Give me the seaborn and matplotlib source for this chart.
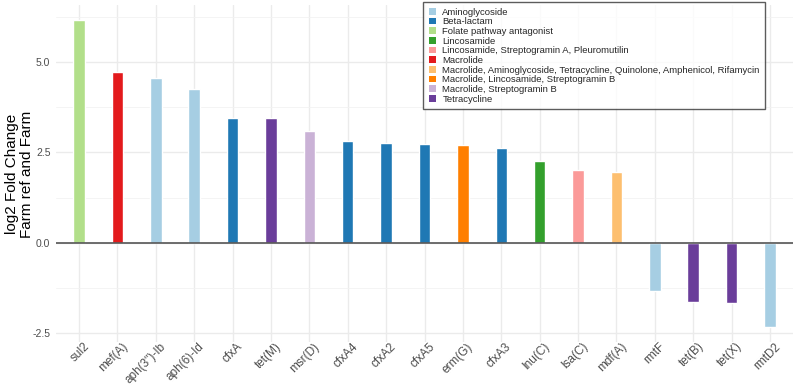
import matplotlib
matplotlib.use("Agg")
import matplotlib.pyplot as plt
from matplotlib.patches import Rectangle
from matplotlib.ticker import FixedLocator
import matplotlib.transforms as mtransforms
import seaborn as sns
import pandas as pd

genes = ["sul2", "mef(A)", "aph(3'')-Ib", "aph(6)-Id", "cfxA", "tet(M)", "msr(D)",
         "cfxA4", "cfxA2", "cfxA5", "erm(G)", "cfxA3", "lnu(C)", "lsa(C)", "mdf(A)",
         "rmtF", "tet(B)", "tet(X)", "rmtD2"]
log2fc = [6.15, 4.72, 4.56, 4.24, 3.46, 3.44, 3.08, 2.80, 2.75, 2.72, 2.71, 2.61,
          2.26, 2.00, 1.97, -1.33, -1.64, -1.67, -2.32]
drug_class = ["Folate pathway antagonist", "Macrolide", "Aminoglycoside", "Aminoglycoside",
              "Beta-lactam", "Tetracycline", "Macrolide, Streptogramin B",
              "Beta-lactam", "Beta-lactam", "Beta-lactam",
              "Macrolide, Lincosamide, Streptogramin B", "Beta-lactam", "Lincosamide",
              "Lincosamide, Streptogramin A, Pleuromutilin",
              "Macrolide, Aminoglycoside, Tetracycline, Quinolone, Amphenicol, Rifamycin",
              "Aminoglycoside", "Tetracycline", "Tetracycline", "Aminoglycoside"]
classes = ["Aminoglycoside", "Beta-lactam", "Folate pathway antagonist", "Lincosamide",
           "Lincosamide, Streptogramin A, Pleuromutilin", "Macrolide",
           "Macrolide, Aminoglycoside, Tetracycline, Quinolone, Amphenicol, Rifamycin",
           "Macrolide, Lincosamide, Streptogramin B", "Macrolide, Streptogramin B",
           "Tetracycline"]
class_colors = ["#A6CEE3", "#1F78B4", "#B2DF8A", "#33A02C", "#FB9A99", "#E31A1C",
                "#FDBF6F", "#FF7F00", "#CAB2D6", "#6A3D9A"]
yticks = [-2.5, 0.0, 2.5, 5.0]
ytick_labels = ["-2.5", "0.0", "2.5", "5.0"]

df = pd.DataFrame({"gene": genes, "lfc": log2fc, "cls": drug_class})
palette = dict(zip(classes, class_colors))

sns.set_theme(style="white")
plt.rcParams["font.family"] = ["Liberation Sans", "DejaVu Sans"]

fig = plt.figure(figsize=(7.94, 3.90), dpi=100)
ax = fig.add_axes([56/794, 1 - 342/390, (793 - 56)/794, (342 - 5)/390])

sns.barplot(data=df, x="gene", y="lfc", hue="cls", hue_order=classes, order=genes,
            palette=palette, dodge=False, width=0.3, saturation=1, ax=ax, legend=False,
            zorder=3)

ax.axhline(0, color="#555555", lw=1.2, zorder=4)
ax.set_xlim(-0.6, len(genes) - 0.4)
ax.set_ylim(-2.74, 6.57)
ax.yaxis.set_major_locator(FixedLocator(yticks))
ax.yaxis.set_minor_locator(FixedLocator([-1.25, 1.25, 3.75, 6.25]))
ax.set_yticklabels(ytick_labels)
ax.grid(True, which="major", color="#EBEBEB", lw=1.0, zorder=0)
ax.grid(True, which="minor", axis="y", color="#F2F2F2", lw=0.6, zorder=0)
for s in ax.spines.values():
    s.set_visible(False)
ax.tick_params(axis="both", length=0, colors="#4D4D4D", labelsize=8.5, pad=2)
ax.tick_params(axis="y", labelsize=7.5, pad=4)
offset = mtransforms.ScaledTranslation(6/72, 0, fig.dpi_scale_trans)
for lab in ax.get_xticklabels():
    lab.set_rotation(45)
    lab.set_ha("right")
    lab.set_va("center")
    lab.set_rotation_mode("anchor")
    lab.set_transform(lab.get_transform() + offset)
ax.set_xlabel("")
ax.set_ylabel("")
fig.text(19.5/794, 1 - 174/390, "log2 Fold Change\nFarm ref and Farm", rotation=90,
         ha="center", va="center", fontsize=11, color="black", linespacing=1.15)

handles = [Rectangle((0, 0), 1, 1, facecolor=c, edgecolor="none") for c in class_colors]
leg = fig.legend(handles, classes, loc="upper left", bbox_to_anchor=(423/794, 1 - 2/390),
                 bbox_transform=fig.transFigure, fontsize=6.8, frameon=True, fancybox=False,
                 borderaxespad=0, handlelength=0.75, handleheight=0.75, handletextpad=0.7,
                 labelspacing=0.07, borderpad=0.6)
leg.get_frame().set_edgecolor("#333333")
leg.get_frame().set_linewidth(1.0)

fig.savefig("out.png", dpi=100)
